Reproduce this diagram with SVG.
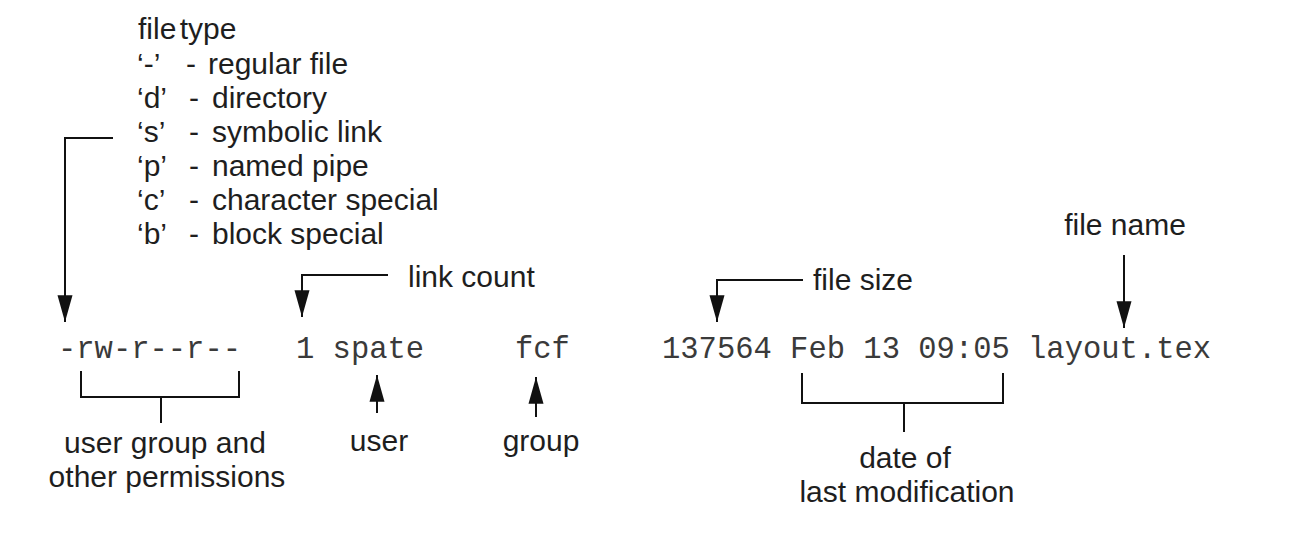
<svg xmlns="http://www.w3.org/2000/svg" width="1294" height="536" viewBox="0 0 1294 536">
<style>
.s{font-family:"Liberation Sans",Arial,sans-serif;font-size:30px;fill:#1e1e1e}
.m{font-family:"Liberation Mono","Courier New",monospace;font-size:30.5px;fill:#3a3a3a}
.c{fill:none;stroke:#111;stroke-width:2}
.mid{text-anchor:middle}
</style>
<defs>
<marker id="ah" markerUnits="userSpaceOnUse" markerWidth="30" markerHeight="20" viewBox="-26 -8 28 16" refX="0" refY="0" orient="auto">
<path d="M0,0 L-25,-7 L-25,7 Z" fill="#111"/>
</marker>
</defs>
<rect width="1294" height="536" fill="#fff"/>
<g id="filetype-legend">
<text class="s" x="138" y="39" word-spacing="-5">file type</text>
<text class="s" x="137" y="74">‘-’</text><text class="s" x="186" y="74">-</text><text class="s" x="208" y="74">regular file</text>
<text class="s" x="137" y="108">‘d’</text><text class="s" x="189" y="108">-</text><text class="s" x="212" y="108">directory</text>
<text class="s" x="137" y="142">‘s’</text><text class="s" x="189" y="142">-</text><text class="s" x="212" y="142">symbolic link</text>
<text class="s" x="137" y="176">‘p’</text><text class="s" x="189" y="176">-</text><text class="s" x="212" y="176">named pipe</text>
<text class="s" x="137" y="210">‘c’</text><text class="s" x="189" y="210">-</text><text class="s" x="212" y="210">character special</text>
<text class="s" x="137" y="244">‘b’</text><text class="s" x="189" y="244">-</text><text class="s" x="212" y="244">block special</text>
</g>
<g id="listing">
<text class="m" x="58" y="358">-rw-r--r--</text>
<text class="m" x="296" y="358">1 spate</text>
<text class="m" x="515" y="358">fcf</text>
<text class="m" x="662" y="358">137564 Feb 13 09:05 layout.tex</text>
</g>
<g id="labels">
<text class="s" x="408" y="287">link count</text>
<text class="s" x="813" y="290">file size</text>
<text class="s mid" x="1125" y="235">file name</text>
<text class="s mid" x="165" y="453">user group and</text>
<text class="s mid" x="167" y="487">other permissions</text>
<text class="s mid" x="379" y="451">user</text>
<text class="s mid" x="541" y="451">group</text>
<text class="s mid" x="905" y="468">date of</text>
<text class="s mid" x="907" y="502">last modification</text>
</g>
<g id="connectors">
<polyline class="c" points="113,138 65,138 65,322" marker-end="url(#ah)"/>
<polyline class="c" points="388,275 302,275 302,317" marker-end="url(#ah)"/>
<polyline class="c" points="803,280 717,280 717,322" marker-end="url(#ah)"/>
<line class="c" x1="1124" y1="255" x2="1124" y2="328" marker-end="url(#ah)"/>
<line class="c" x1="377" y1="413" x2="377" y2="375" marker-end="url(#ah)"/>
<line class="c" x1="536" y1="417" x2="536" y2="377" marker-end="url(#ah)"/>
<polyline class="c" points="81,371 81,397 239,397 239,371"/>
<line class="c" x1="161" y1="397" x2="161" y2="423"/>
<polyline class="c" points="802,373 802,403 1003,403 1003,373"/>
<line class="c" x1="904" y1="403" x2="904" y2="432"/>
</g>
</svg>
